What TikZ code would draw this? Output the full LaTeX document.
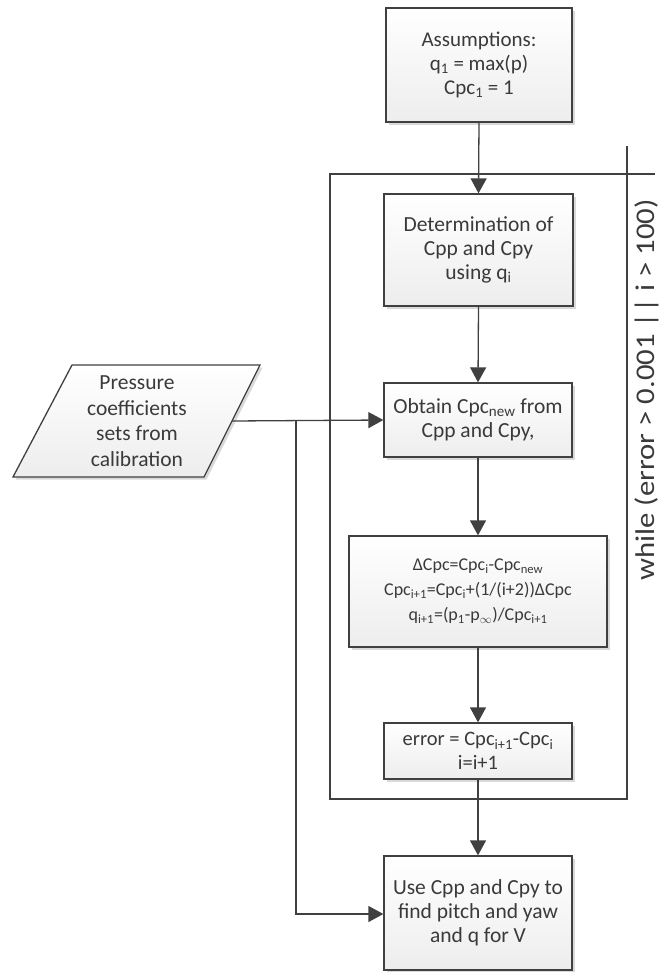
\documentclass[tikz,border=0pt]{standalone}
\usepackage{fontspec}
\setmainfont{Carlito}
\usetikzlibrary{arrows.meta,shadows}
\definecolor{ln}{HTML}{404040}
\definecolor{tx}{HTML}{3A3A3A}
\newcommand{\sbs}[1]{\textsubscript{#1}}
\begin{document}
\begin{tikzpicture}[x=1pt,y=1pt,
  box/.style={draw=ln, line width=1.3pt, top color=white, bottom color=black!7,
    drop shadow={shadow xshift=2.5pt, shadow yshift=-2.5pt, fill=black, opacity=0.15},
    inner sep=0pt, align=center, text=tx, font=\fontsize{21.5}{24}\selectfont},
  conn/.style={draw=ln, line width=1.3pt},
  arr/.style={conn, -{Triangle[length=15pt,width=16pt]}},
  lbl/.style={text=tx, align=center, inner sep=0pt, font=\fontsize{21.5}{25.5}\selectfont}]
\useasboundingbox (0,0) rectangle (665,-972);

% loop frame
\draw[conn] (330,-174) rectangle (627,-799);
\coordinate (ft) at (627,-146);
\coordinate (fr) at (655,-174);
\draw[conn] (ft) -- (627,-174) -- (fr);
\node[lbl, rotate=90, xscale=1.14, font=\fontsize{27}{31}\selectfont] (loop) at (647,-390) {while (error > 0.001 || i > 100)};

% boxes
\node[box, minimum width=186pt, minimum height=114pt, font=\fontsize{21}{24}\selectfont] (ass) at (479,-65)
  {Assumptions:\\q\sbs{1} = max(p)\\Cpc\sbs{1} = 1};
\node[box, minimum width=189pt, minimum height=112pt] (det) at (478.5,-250)
  {Determination of\\Cpp and Cpy\\using q\sbs{i}};
\node[box, minimum width=188pt, minimum height=74pt] (obt) at (478,-420)
  {Obtain Cpc\sbs{new} from\\Cpp and Cpy,};
\node[box, minimum width=258pt, minimum height=111pt, font=\fontsize{18}{25}\selectfont] (del) at (478,-591.5)
  {ΔCpc=Cpc\sbs{i}-Cpc\sbs{new}\\Cpc\sbs{i+1}=Cpc\sbs{i}+(1/(i+2))ΔCpc\\q\sbs{i+1}=(p\sbs{1}-p\sbs{$\infty$})/Cpc\sbs{i+1}};
\node[box, minimum width=188pt, minimum height=56pt, font=\fontsize{20.5}{23.5}\selectfont] (err) at (478,-751)
  {error = Cpc\sbs{i+1}-Cpc\sbs{i}\\i=i+1};
\node[box, minimum width=188pt, minimum height=114pt] (use) at (478,-913)
  {Use Cpp and Cpy to\\find pitch and yaw\\and q for V};

% input parallelogram
\draw[conn, top color=white, bottom color=black!7,
    drop shadow={shadow xshift=2.5pt, shadow yshift=-2.5pt, fill=black, opacity=0.15}]
  (72,-365) -- (260,-365) -- (204,-477) -- (13,-477) -- cycle;
\node[lbl] (inp) at (137,-421) {Pressure\\coefficients\\sets from\\calibration};
\coordinate (inr) at (232,-421);
\coordinate (br) at (296,-421);
\coordinate (bb) at (296,-914);

% connectors
\draw[arr] (ass.south) -- (det.north);
\draw[arr] (det.south) -- (obt.north);
\draw[arr] (obt.south) -- (del.north);
\draw[arr] (del.south) -- (err.north);
\draw[arr] (err.south) -- (use.north);
\draw[arr] (inr) -- (obt.west);
\draw[arr] (br) -- (bb) -- (use.west |- bb);
\end{tikzpicture}
\end{document}
